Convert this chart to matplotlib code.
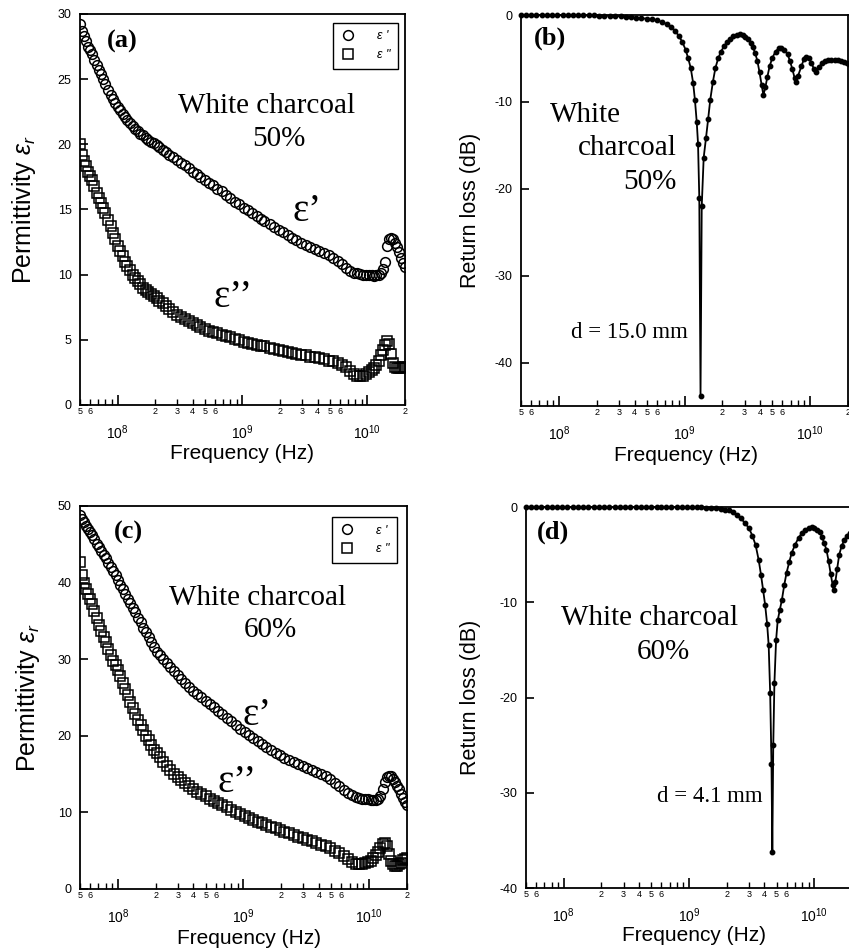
import numpy as np
import matplotlib.pyplot as plt
from matplotlib.ticker import FixedLocator, FixedFormatter

plt.rcParams['font.family'] = ['Liberation Sans', 'DejaVu Sans']
plt.rcParams['axes.unicode_minus'] = False
plt.rcParams['mathtext.fontset'] = 'custom'
plt.rcParams['mathtext.rm'] = 'Liberation Sans'
plt.rcParams['mathtext.it'] = 'Liberation Sans:italic'

# frequency points of the permittivity measurement (GHz)
freq_eps = [0.050, 0.052, 0.054, 0.056, 0.058, 0.060, 0.062, 0.065, 0.068, 0.071,
            0.074, 0.077, 0.080, 0.084, 0.088, 0.092, 0.096, 0.100, 0.105, 0.110,
            0.115, 0.120, 0.126, 0.132, 0.138, 0.145, 0.152, 0.160, 0.168, 0.176,
            0.185, 0.195, 0.205, 0.215, 0.23, 0.245, 0.26, 0.28, 0.30, 0.32,
            0.345, 0.37, 0.40, 0.43, 0.46, 0.50, 0.54, 0.58, 0.63, 0.68,
            0.74, 0.80, 0.87, 0.94, 1.02, 1.1, 1.2, 1.3, 1.4, 1.5,
            1.65, 1.8, 1.95, 2.1, 2.3, 2.5, 2.7, 2.95, 3.2, 3.5,
            3.8, 4.1, 4.5, 4.9, 5.3, 5.8, 6.3, 6.8, 7.3, 7.8,
            8.3, 8.8, 9.3, 9.8, 10.3, 10.8, 11.3, 11.8, 12.3, 12.8,
            13.3, 13.8, 14.3, 14.8, 15.4, 16.0, 16.6, 17.2, 17.9, 18.6,
            19.3, 20.0]

# white charcoal 50 %
eps1_50 = [29.2, 28.7, 28.3, 27.9, 27.5, 27.2, 26.9, 26.5, 26.1, 25.7,
           25.4, 25.0, 24.6, 24.2, 23.8, 23.5, 23.2, 22.9, 22.6, 22.3,
           22.1, 21.9, 21.6, 21.4, 21.2, 21.0, 20.8, 20.7, 20.5, 20.35,
           20.2, 20.1, 19.95, 19.8, 19.6, 19.4, 19.2, 19.0, 18.8, 18.6,
           18.4, 18.15, 17.9, 17.7, 17.5, 17.3, 17.05, 16.85, 16.6, 16.4,
           16.1, 15.85, 15.6, 15.4, 15.15, 14.95, 14.7, 14.5, 14.3, 14.1,
           13.9, 13.65, 13.45, 13.3, 13.05, 12.85, 12.65, 12.45, 12.3, 12.1,
           11.95, 11.8, 11.65, 11.5, 11.3, 11.05, 10.8, 10.5, 10.3, 10.15,
           10.1, 10.05, 10.0, 10.0, 9.95, 9.95, 9.9, 9.95, 10.0, 10.1,
           10.4, 11.0, 12.2, 12.7, 12.8, 12.7, 12.4, 12.1, 11.7, 11.3,
           10.9, 10.6]
eps2_50 = [20.0, 19.2, 18.7, 18.3, 17.9, 17.6, 17.3, 16.8, 16.3, 15.9,
           15.5, 15.1, 14.7, 14.2, 13.7, 13.2, 12.7, 12.2, 11.8, 11.4,
           11.0, 10.7, 10.35, 10.0, 9.75, 9.5, 9.25, 9.0, 8.8, 8.65,
           8.5, 8.35, 8.2, 8.0, 7.8, 7.6, 7.4, 7.15, 6.9, 6.75,
           6.6, 6.45, 6.3, 6.15, 6.0, 5.85, 5.7, 5.6, 5.5, 5.4,
           5.3, 5.2, 5.05, 4.95, 4.85, 4.75, 4.7, 4.6, 4.55, 4.5,
           4.4, 4.3, 4.25, 4.15, 4.05, 4.0, 3.9, 3.85, 3.8, 3.7,
           3.65, 3.6, 3.5, 3.4, 3.35, 3.25, 3.1, 2.9, 2.6, 2.35,
           2.2, 2.2, 2.25, 2.35, 2.5, 2.65, 2.85, 3.1, 3.4, 3.8,
           4.2, 4.6, 4.9, 4.7, 3.9, 3.2, 2.9, 2.8, 2.8, 2.85,
           2.9, 2.9]

# white charcoal 60 %
eps1_60 = [48.8, 48.3, 47.9, 47.4, 47.0, 46.6, 46.2, 45.7, 45.1, 44.6,
           44.1, 43.6, 43.2, 42.6, 42.0, 41.5, 41.0, 40.4, 39.7, 39.1,
           38.5, 37.9, 37.3, 36.7, 36.1, 35.4, 34.8, 34.1, 33.5, 32.9,
           32.3, 31.6, 31.0, 30.6, 30.0, 29.5, 29.0, 28.4, 27.9, 27.4,
           26.9, 26.4, 25.9, 25.4, 25.0, 24.5, 24.1, 23.7, 23.2, 22.8,
           22.3, 21.9, 21.4, 20.95, 20.45, 20.05, 19.65, 19.3, 18.95, 18.6,
           18.2, 17.8, 17.45, 17.1, 16.85, 16.6, 16.35, 16.05, 15.8, 15.5,
           15.25, 15.0, 14.7, 14.3, 13.9, 13.4, 12.95, 12.55, 12.25, 12.05,
           11.9, 11.8, 11.75, 11.7, 11.65, 11.6, 11.6, 11.7, 12.2, 13.1,
           14.0, 14.6, 14.8, 14.7, 14.4, 14.0, 13.5, 13.0, 12.4, 11.9,
           11.4, 11.0]
eps2_60 = [42.7, 41.0, 40.0, 39.2, 38.5, 37.8, 37.2, 36.3, 35.4, 34.5,
           33.7, 32.9, 32.2, 31.3, 30.5, 29.8, 29.2, 28.6, 27.8, 26.9,
           26.1, 25.3, 24.4, 23.6, 22.9, 22.1, 21.4, 20.7, 20.0, 19.4,
           18.8, 18.2, 17.7, 17.2, 16.6, 16.0, 15.5, 15.0, 14.6, 14.2,
           13.8, 13.4, 13.0, 12.7, 12.4, 12.1, 11.8, 11.55, 11.25, 10.95,
           10.65, 10.35, 10.05, 9.8, 9.5, 9.3, 9.05, 8.8, 8.6, 8.4,
           8.15, 7.9, 7.7, 7.5, 7.25, 7.0, 6.8, 6.6, 6.4, 6.2,
           6.0, 5.8, 5.55, 5.3, 5.0, 4.7, 4.3, 3.9, 3.5, 3.3,
           3.2, 3.25, 3.35, 3.5, 3.7, 4.0, 4.4, 4.8, 5.4, 5.9,
           6.0, 5.6, 4.6, 3.7, 3.2, 3.05, 3.05, 3.2, 3.45, 3.75,
           3.95, 4.0]

# return loss, d = 15.0 mm
freq_rl50 = [0.05, 0.055, 0.06, 0.066, 0.073, 0.08, 0.088, 0.097, 0.107, 0.118,
             0.13, 0.143, 0.157, 0.173, 0.19, 0.21, 0.23, 0.255, 0.28, 0.31,
             0.34, 0.375, 0.41, 0.45, 0.5, 0.55, 0.6, 0.66, 0.72, 0.78,
             0.84, 0.9, 0.96, 1.02, 1.07, 1.12, 1.17, 1.21, 1.25, 1.28,
             1.31, 1.34, 1.37, 1.42, 1.48, 1.54, 1.6, 1.68, 1.76, 1.85,
             1.95, 2.06, 2.18, 2.3, 2.45, 2.6, 2.75, 2.9, 3.05, 3.2,
             3.35, 3.5, 3.65, 3.8, 3.95, 4.1, 4.24, 4.4, 4.56, 4.75,
             5.0, 5.3, 5.6, 5.9, 6.2, 6.6, 6.9, 7.2, 7.5, 7.7,
             8.0, 8.5, 8.9, 9.3, 9.8, 10.2, 10.7, 11.2, 11.8, 12.4,
             13.1, 13.8, 14.7, 15.6, 16.5, 17.5, 18.5, 19.5, 20.5]
rl_50 = [0, 0, 0, 0, 0, 0, 0, 0, 0, 0,
         -0.02, -0.02, -0.03, -0.04, -0.05, -0.06, -0.07, -0.09, -0.11, -0.14,
         -0.18, -0.23, -0.29, -0.36, -0.42, -0.5, -0.6, -0.8, -1.05, -1.35,
         -1.8, -2.4, -3.1, -4.0, -5.0, -6.1, -7.8, -9.8, -12.3, -14.8,
         -21.0, -43.8, -22.0, -16.4, -14.2, -12.0, -9.8, -7.7, -6.1, -5.0,
         -4.2, -3.6, -3.1, -2.75, -2.45, -2.3, -2.2, -2.3, -2.5, -2.8,
         -3.2, -3.7, -4.4, -5.3, -6.6, -8.0, -9.2, -8.3, -7.1, -5.9,
         -4.9, -4.2, -3.85, -3.8, -4.0, -4.5, -5.3, -6.2, -7.2, -7.7,
         -7.0, -5.9, -5.1, -4.8, -5.0, -5.5, -6.2, -6.6, -6.0, -5.5,
         -5.3, -5.2, -5.2, -5.15, -5.2, -5.3, -5.4, -5.5, -5.6]

# return loss, d = 4.1 mm
freq_rl60 = [0.05, 0.055, 0.06, 0.066, 0.073, 0.08, 0.088, 0.097, 0.107, 0.118,
             0.13, 0.143, 0.157, 0.173, 0.19, 0.21, 0.23, 0.255, 0.28, 0.31,
             0.34, 0.375, 0.41, 0.45, 0.5, 0.55, 0.6, 0.66, 0.72, 0.8,
             0.88, 0.96, 1.05, 1.15, 1.25, 1.37, 1.5, 1.65, 1.8, 1.95,
             2.1, 2.25, 2.4, 2.6, 2.8, 3.0, 3.2, 3.4, 3.6, 3.75,
             3.9, 4.05, 4.2, 4.32, 4.44, 4.55, 4.62, 4.7, 4.8, 4.95,
             5.1, 5.3, 5.5, 5.75, 6.0, 6.3, 6.6, 7.0, 7.5, 8.0,
             8.5, 9.0, 9.5, 10.0, 10.5, 11.0, 11.5, 12.0, 12.5, 13.0,
             13.5, 14.0, 14.3, 14.7, 15.2, 15.8, 16.5, 17.3, 18.2, 19.2,
             20.5]
rl_60 = [0, 0, 0, 0, 0, 0, 0, 0, 0, 0,
         0, 0, 0, 0, 0, 0, 0, 0, 0, 0,
         0, -0.01, -0.01, -0.01, -0.01, -0.01, -0.01, -0.01, -0.01, -0.01,
         -0.01, -0.01, -0.02, -0.03, -0.04, -0.06, -0.09, -0.14, -0.2, -0.27,
         -0.35, -0.55, -0.85, -1.2, -1.7, -2.2, -3.0, -4.0, -5.6, -7.1,
         -8.7, -10.3, -12.3, -14.5, -19.5, -27.0, -36.2, -25.0, -18.5, -14.0,
         -11.9, -10.8, -9.8, -8.2, -6.9, -5.8, -4.8, -4.0, -3.2, -2.7,
         -2.4, -2.2, -2.1, -2.2, -2.4, -2.6, -3.1, -3.8, -4.5, -5.7,
         -7.0, -8.2, -8.7, -7.9, -6.5, -5.0, -4.1, -3.5, -3.0, -2.7,
         -2.5]

major_f = [1e8, 1e9, 1e10]
major_lbl = [r'$\mathregular{10^{8}}$', r'$\mathregular{10^{9}}$', r'$\mathregular{10^{10}}$']
minor_f = [5e7, 6e7, 7e7, 8e7, 9e7,
           2e8, 3e8, 4e8, 5e8, 6e8, 7e8, 8e8, 9e8,
           2e9, 3e9, 4e9, 5e9, 6e9, 7e9, 8e9, 9e9, 2e10]
minor_lbl = ['5', '6', '', '', '',
             '2', '3', '4', '5', '6', '', '', '',
             '2', '3', '4', '5', '6', '', '', '', '2']

SERIF = ['Liberation Serif', 'DejaVu Serif']


def setup_axes(ax, ylim, yticks, ylabel, ylab_size, xl_pos, yl_pos, last_minor=True):
    ax.set_xscale('log')
    ax.set_xlim(5e7, 2e10)
    ax.set_ylim(*ylim)
    ax.xaxis.set_major_locator(FixedLocator(major_f))
    ax.xaxis.set_major_formatter(FixedFormatter(major_lbl))
    ax.xaxis.set_minor_locator(FixedLocator(minor_f))
    lbls = list(minor_lbl)
    if not last_minor:
        lbls[-1] = ''
    ax.xaxis.set_minor_formatter(FixedFormatter(lbls))
    ax.set_yticks(yticks)
    ax.tick_params(axis='x', which='major', direction='in', length=7, width=1.2,
                   pad=13, labelsize=10)
    ax.tick_params(axis='x', which='minor', direction='in', length=4, width=1.0,
                   pad=1.5, labelsize=6.5)
    ax.tick_params(axis='y', which='major', direction='in', length=6, width=1.2,
                   pad=6, labelsize=9)
    ax.tick_params(top=False, right=False, which='both')
    for s in ax.spines.values():
        s.set_linewidth(1.3)
    ax.set_xlabel('Frequency (Hz)', fontsize=15)
    ax.set_ylabel(ylabel, fontsize=ylab_size)
    ax.xaxis.set_label_coords(*xl_pos)
    ax.yaxis.set_label_coords(*yl_pos)


fig = plt.figure(figsize=(8.49, 9.52), dpi=100)
ax_a = fig.add_axes([0.0942, 0.5746, 0.3828, 0.4107])
ax_b = fig.add_axes([0.6137, 0.5735, 0.3852, 0.4107])
ax_c = fig.add_axes([0.0942, 0.0662, 0.3852, 0.4023])
ax_d = fig.add_axes([0.6196, 0.0672, 0.3840, 0.4002])

f_eps = np.array(freq_eps) * 1e9

# (a) permittivity, 50 %
ax_a.plot(f_eps, eps1_50, 'o', ms=7, mfc='none', mec='black', mew=1.1, label="ε '")
ax_a.plot(f_eps, eps2_50, 's', ms=6.5, mfc='none', mec='black', mew=1.1, label='ε "')
setup_axes(ax_a, (0, 30), range(0, 31, 5), r'Permittivity $\epsilon_r$', 18,
           (0.50, -0.100), (-0.130, 0.5))

# (c) permittivity, 60 %
ax_c.plot(f_eps, eps1_60, 'o', ms=7, mfc='none', mec='black', mew=1.1, label="ε '")
ax_c.plot(f_eps, eps2_60, 's', ms=6.5, mfc='none', mec='black', mew=1.1, label='ε "')
setup_axes(ax_c, (0, 50), range(0, 51, 10), r'Permittivity $\epsilon_r$', 18,
           (0.517, -0.104), (-0.116, 0.5))

for ax, lx, ly in [(ax_a, 0.978, 0.977), (ax_c, 0.969, 0.971)]:
    leg = ax.legend(loc='upper right', bbox_to_anchor=(lx, ly), borderaxespad=0,
                    frameon=True, fancybox=False, edgecolor='black', framealpha=1,
                    prop={'style': 'italic', 'size': 9}, handlelength=1.2,
                    handletextpad=1.7, borderpad=0.6, labelspacing=0.55)
    leg.get_frame().set_linewidth(1.0)

# (b) return loss, 50 %
ax_b.plot(np.array(freq_rl50) * 1e9, rl_50, '-o', color='black', lw=1.3, ms=3.2,
          clip_on=False)
setup_axes(ax_b, (-45, 0), [0, -10, -20, -30, -40], 'Return loss (dB)', 15.5,
           (0.505, -0.102), (-0.123, 0.5))

# (d) return loss, 60 %
ax_d.plot(np.array(freq_rl60) * 1e9, rl_60, '-o', color='black', lw=1.3, ms=3.2,
          clip_on=False)
setup_axes(ax_d, (-40, 0), [0, -10, -20, -30, -40], 'Return loss (dB)', 15.5,
           (0.515, -0.100), (-0.137, 0.5), last_minor=False)

# annotations
tf = dict(family=SERIF)
big = 21
ax_a.text(0.129, 0.931, '(a)', transform=ax_a.transAxes, ha='center', va='center',
          fontsize=19, fontweight='bold', **tf)
ax_a.text(0.575, 0.765, 'White charcoal', transform=ax_a.transAxes, ha='center',
          va='center', fontsize=big, **tf)
ax_a.text(0.612, 0.680, '50%', transform=ax_a.transAxes, ha='center', va='center',
          fontsize=big, **tf)
ax_a.text(0.698, 0.494, 'ε’', transform=ax_a.transAxes, ha='center', va='center',
          fontsize=28, **tf)
ax_a.text(0.471, 0.274, 'ε’’', transform=ax_a.transAxes, ha='center', va='center',
          fontsize=28, **tf)

ax_b.text(0.089, 0.941, '(b)', transform=ax_b.transAxes, ha='center', va='center',
          fontsize=19, fontweight='bold', **tf)
ax_b.text(0.089, 0.744, 'White', transform=ax_b.transAxes, ha='left', va='center',
          fontsize=big, **tf)
ax_b.text(0.477, 0.660, 'charcoal', transform=ax_b.transAxes, ha='right', va='center',
          fontsize=big, **tf)
ax_b.text(0.477, 0.573, '50%', transform=ax_b.transAxes, ha='right', va='center',
          fontsize=big, **tf)
ax_b.text(0.333, 0.187, 'd = 15.0 mm', transform=ax_b.transAxes, ha='center',
          va='center', fontsize=16.5, **tf)

ax_c.text(0.147, 0.932, '(c)', transform=ax_c.transAxes, ha='center', va='center',
          fontsize=19, fontweight='bold', **tf)
ax_c.text(0.544, 0.760, 'White charcoal', transform=ax_c.transAxes, ha='center',
          va='center', fontsize=big, **tf)
ax_c.text(0.581, 0.676, '60%', transform=ax_c.transAxes, ha='center', va='center',
          fontsize=big, **tf)
ax_c.text(0.541, 0.454, 'ε’', transform=ax_c.transAxes, ha='center', va='center',
          fontsize=28, **tf)
ax_c.text(0.480, 0.279, 'ε’’', transform=ax_c.transAxes, ha='center', va='center',
          fontsize=28, **tf)

ax_d.text(0.083, 0.934, '(d)', transform=ax_d.transAxes, ha='center', va='center',
          fontsize=19, fontweight='bold', **tf)
ax_d.text(0.380, 0.709, 'White charcoal', transform=ax_d.transAxes, ha='center',
          va='center', fontsize=big, **tf)
ax_d.text(0.420, 0.619, '60%', transform=ax_d.transAxes, ha='center', va='center',
          fontsize=big, **tf)
ax_d.text(0.564, 0.239, 'd = 4.1 mm', transform=ax_d.transAxes, ha='center',
          va='center', fontsize=16.5, **tf)

fig.savefig('out.png', dpi=100)
